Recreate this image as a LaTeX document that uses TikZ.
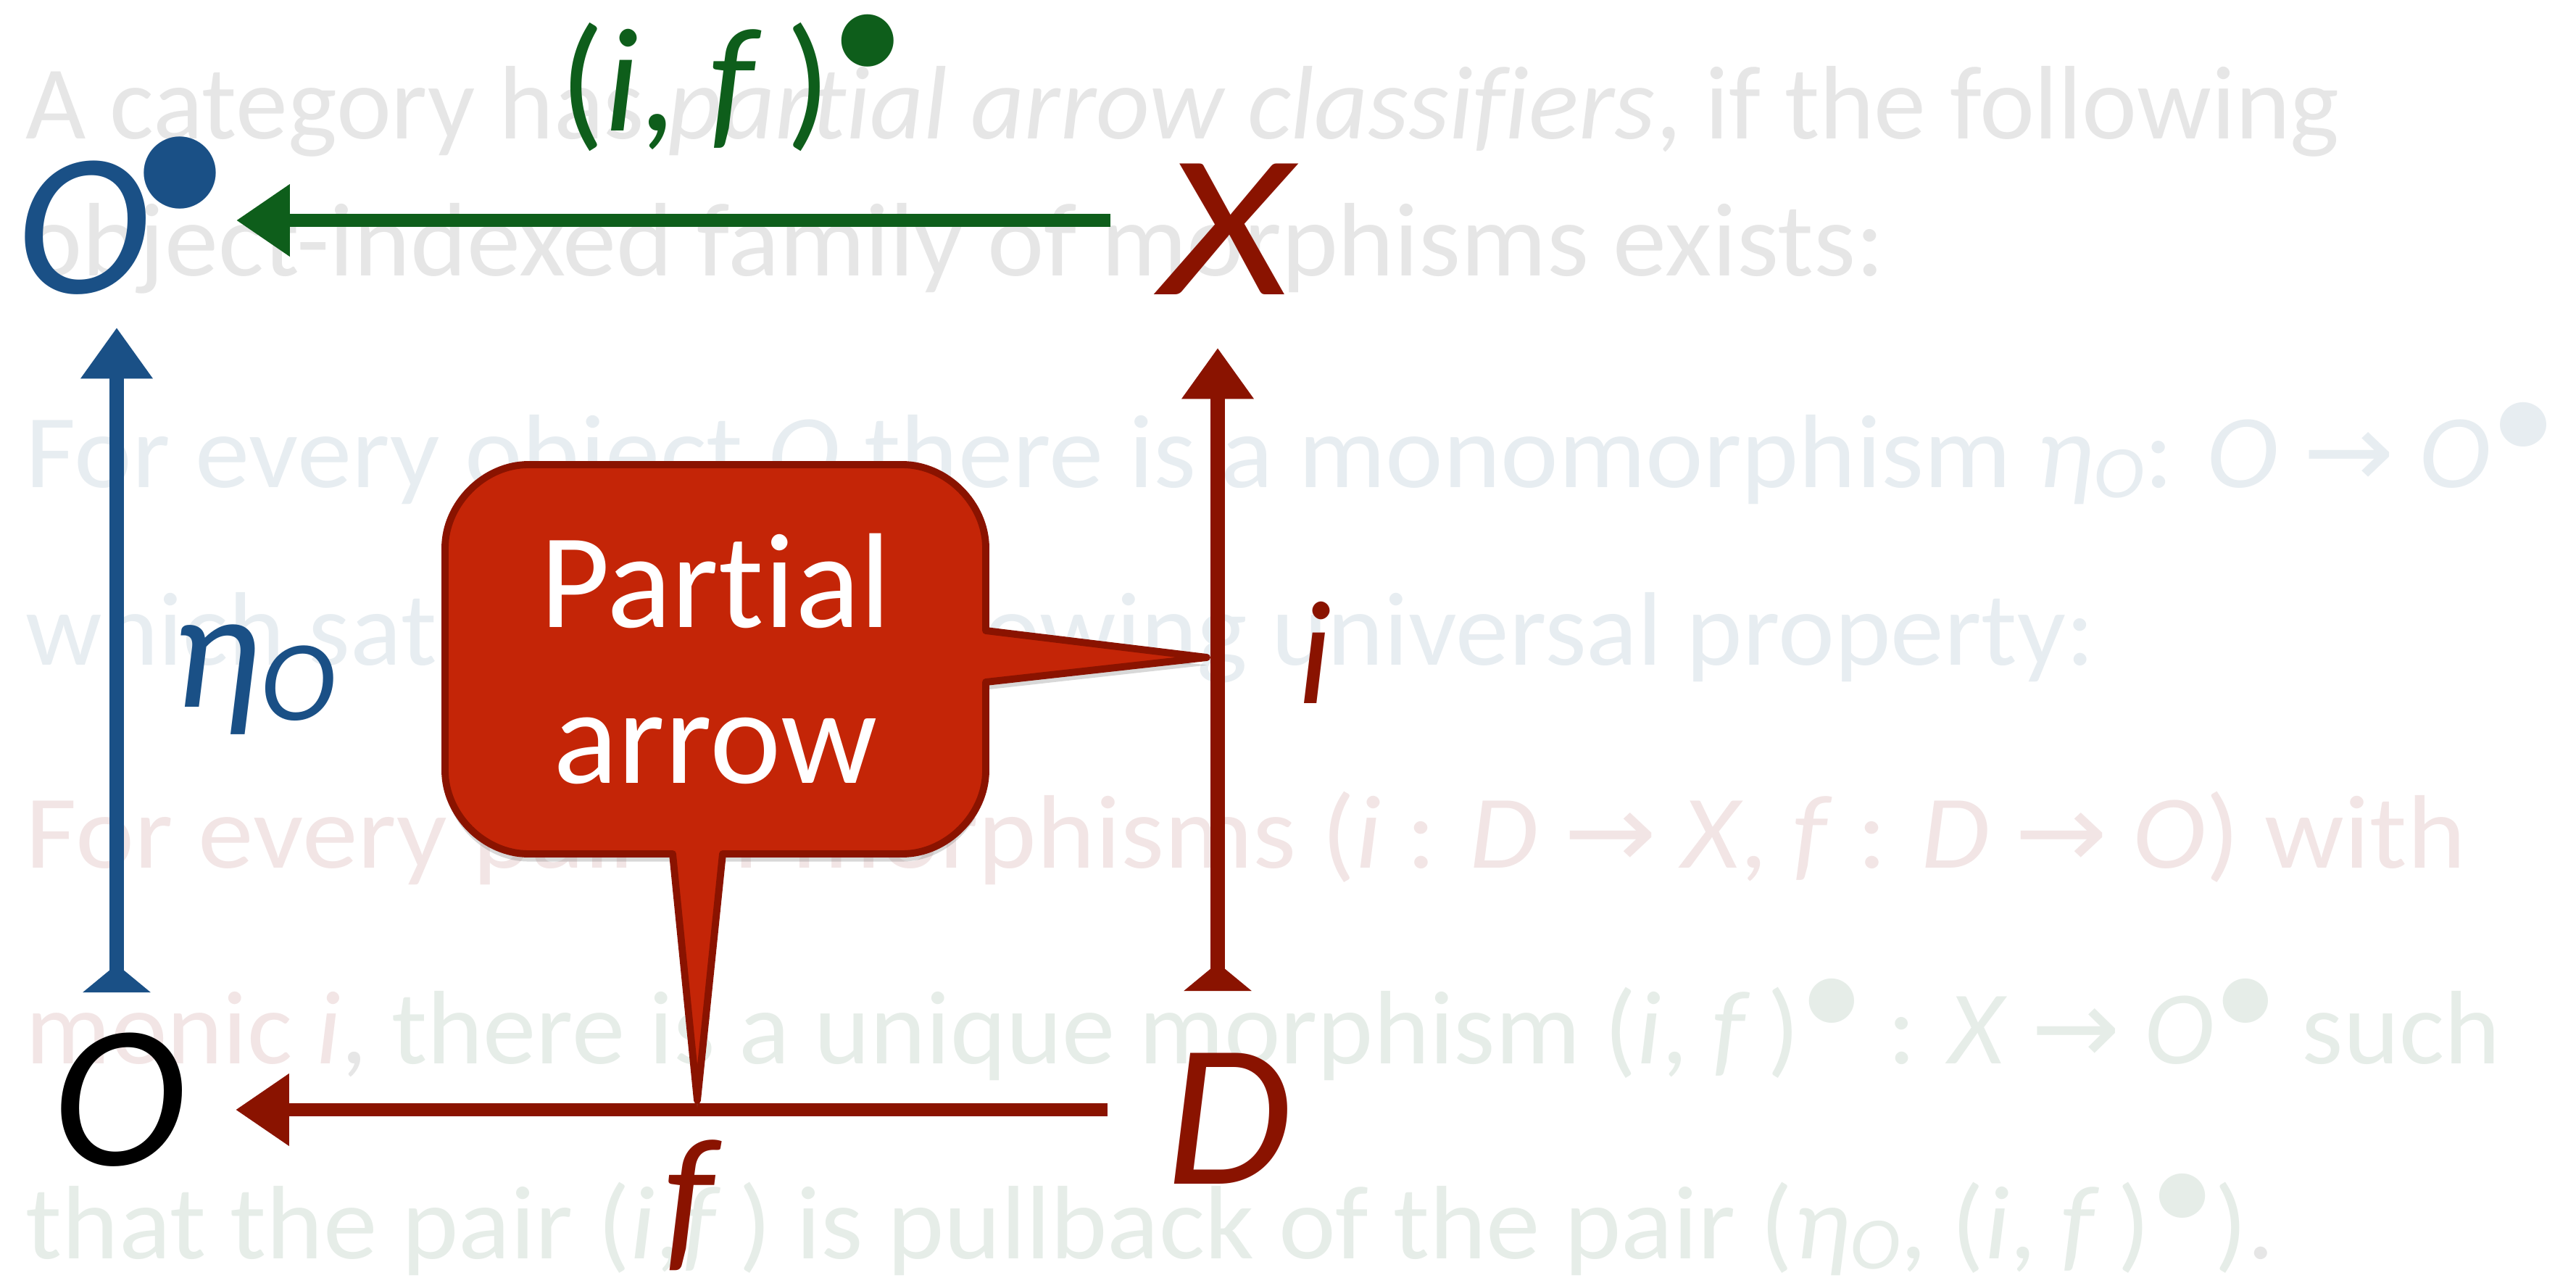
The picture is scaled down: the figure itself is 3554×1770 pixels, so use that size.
\documentclass[tikz,border=0pt]{standalone}
\usepackage{fontspec}
\setmainfont{Carlito}[Ligatures={NoCommon,NoContextual}]
\newfontfamily\dvfont{DejaVu Sans}
\usetikzlibrary{arrows.meta,shadows}
\definecolor{bgGray}{HTML}{E6E6E6}
\definecolor{bgBlue}{HTML}{E7EDF1}
\definecolor{bgPink}{HTML}{F2E5E5}
\definecolor{bgGreen}{HTML}{E6EDE8}
\definecolor{dBlue}{HTML}{1A5086}
\definecolor{dGreen}{HTML}{0E5E1B}
\definecolor{dRed}{HTML}{8A1300}
\definecolor{cFill}{HTML}{C42507}
\definecolor{cEdge}{HTML}{8A1300}
\newcommand\bgsize{\fontsize{41}{49}\selectfont}
\newcommand\bigsize{\fontsize{80}{96}\selectfont}
\newcommand\lblsize{\fontsize{58}{70}\selectfont}
\newcommand\callsize{\fontsize{53}{61}\selectfont}
\newcommand\rarr{{\dvfont →}}
\newcommand\bul{\raisebox{0.26em}{\scalebox{1.2}{•}}}
\newcommand\subO{\raisebox{-0.1em}{\fontsize{29}{30}\selectfont\textit{O}}}
\newcommand\fitw[2]{\resizebox{#1}{\height}{#2}}
\begin{document}
\begin{tikzpicture}[x=0.01cm,y=-0.01cm,
  bgtext/.style={anchor=base west, inner sep=0pt, font=\bgsize},
  bigletter/.style={inner sep=0pt, font=\bigsize},
  lbl/.style={inner sep=0pt, font=\lblsize},
  harrow/.style={line width=5.1pt, -{Triangle[length=21pt,width=27pt]}},
  varrow/.style={line width=5.5pt, {Triangle[reversed,length=11pt,width=26pt]}-{Triangle[length=20pt,width=27pt]}},
  callout/.style={fill=cFill, draw=cEdge, line width=2.8pt, line join=round}]
\useasboundingbox (0,0) rectangle (3554,1770);
\fill[white] (0,0) rectangle (3554,1770);
% faded background text
\node[bgtext, text=bgGray] (t1) at (35,192) {\fitw{31.90cm}{A category has \textit{partial arrow classifiers}, if the following}};
\node[bgtext, text=bgGray] (t2) at (35,381) {\fitw{25.63cm}{object-indexed family of morphisms exists:}};
\node[bgtext, text=bgBlue] (t3) at (35,672) {\fitw{34.89cm}{For every object \textit{O} there is a monomorphism \textit{η}\subO: \textit{O} \rarr{} \textit{O}\bul}};
\node[bgtext, text=bgBlue] (t4) at (35,917) {\fitw{28.53cm}{which satisfies the following universal property:}};
\node[bgtext, text=bgPink] (t5) at (35,1197) {\fitw{33.64cm}{For every pair of morphisms (\textit{i} : \textit{D} \rarr{} \textit{X}, \textit{f} : \textit{D} \rarr{} \textit{O}) with}};
\node[bgtext, text=bgGreen] (t6) at (35,1467) {\fitw{34.12cm}{{\color{bgPink}monic \textit{i}}{\color{bgGray},} there is a unique morphism (\textit{i}, \textit{f}\,)\bul{} : \textit{X} \rarr{} \textit{O}\bul{} such}};
\node[bgtext, text=bgGreen] (t7) at (35,1736) {\fitw{31.01cm}{that the pair (\textit{i},\textit{f}\,) is pullback of the pair (\textit{η}\subO, (\textit{i}, \textit{f}\,)\bul){\color{bgGray}.}}};
% objects
\node[bigletter, text=dBlue, anchor=base west] (Otop) at (22,405) {\textit{O}\kern-0.1em\raisebox{0.31em}{•}};
\node[bigletter, text=dRed] (X) at (1697,316) {\scalebox{1.22}[1]{\textit{X}}};
\node[bigletter, text=black] (Obot) at (165,1517) {\textit{O}};
\node[bigletter, text=dRed] (D) at (1695,1543) {\textit{D}};
% labels
\node[lbl, text=dGreen, anchor=base west] (lg) at (772,181) {(\textit{i}, \textit{f}\,)\raisebox{0.33em}{•}};
\node[lbl, text=dBlue, anchor=base west] (leta) at (236,975) {\scalebox{1.15}{\textit{η}}\raisebox{-0.09em}{\fontsize{45}{50}\selectfont\textit{O}}};
\node[lbl, text=dRed, anchor=base west] (li) at (1790,970) {\textit{i}};
\node[lbl, text=dRed] (lf) at (956,1663) {\scalebox{1.1}{\textit{f}}};
% arrow ends
\coordinate (gS) at (1532,304); \coordinate (gE) at (326,304);
\coordinate (rS) at (1528,1531); \coordinate (rE) at (325,1531);
\coordinate (bS) at (161,1369); \coordinate (bE) at (161,452);
\coordinate (vS) at (1680,1367); \coordinate (vE) at (1680,480);
\draw[harrow, draw=dGreen] (gS) -- (gE);
\draw[harrow, draw=dRed] (rS) -- (rE);
\draw[varrow, draw=dBlue] (bS) -- (bE);
\draw[varrow, draw=dRed] (vS) -- (vE);
% callout
\path[callout, drop shadow={opacity=0.3, shadow xshift=0pt, shadow yshift=-3pt}]
  (734,641) -- (1245,641) .. controls (1306,641) and (1360,695) .. (1360,756)
  -- (1360,870) -- (1665,907) -- (1360,941) -- (1360,1063)
  .. controls (1360,1124) and (1306,1178) .. (1245,1178)
  -- (997,1178) -- (962,1518) -- (928,1178) -- (729,1178)
  .. controls (668,1178) and (614,1124) .. (614,1063)
  -- (614,756) .. controls (614,695) and (668,641) .. (729,641) -- cycle;
\node[font=\callsize, text=white, align=center, inner sep=0pt] (ct) at (987,909) {Partial\\arrow};
\end{tikzpicture}
\end{document}
